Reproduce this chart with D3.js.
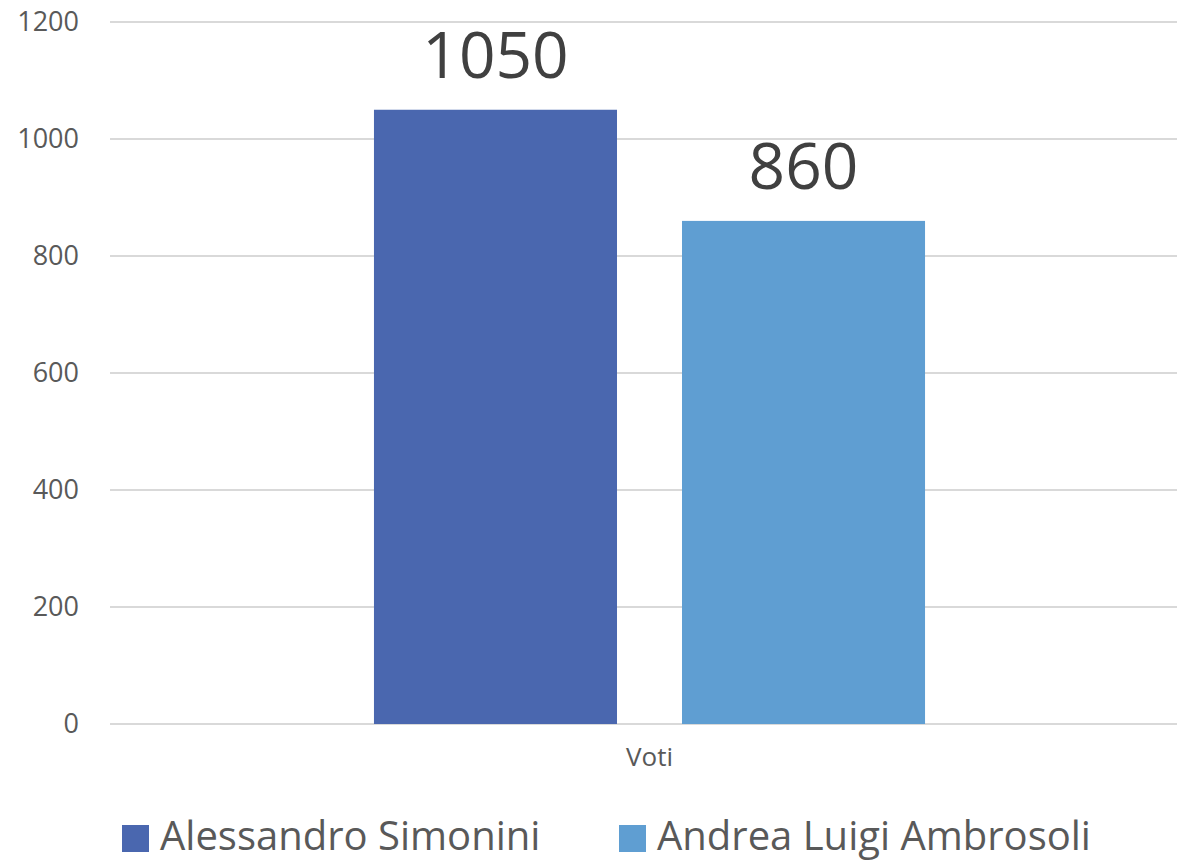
<!DOCTYPE html>
<html>
<head>
<meta charset="utf-8">
<script src="https://cdn.jsdelivr.net/npm/d3@7"></script>
<style>
  body { margin: 0; background: #fff; }
  text { font-family: "Open Sans", "Noto Sans", sans-serif; }
</style>
</head>
<body>
<div id="chart"></div>
<script>
// data
const categories = ["Voti"];
const seriesNames = ["Alessandro Simonini", "Andrea Luigi Ambrosoli"];
const seriesValues = [1050, 860];
const seriesColors = ["#4A67AF", "#5F9ED2"];
const yTicks = [0, 200, 400, 600, 800, 1000, 1200];

const width = 1177, height = 862;
const margin = { top: 22, right: -12, bottom: 138, left: 110 };

const svg = d3.select("#chart").append("svg")
    .attr("width", width)
    .attr("height", height);

// scales
const yScale = d3.scaleLinear()
    .domain([0, 1200])
    .range([height - margin.bottom, margin.top]);

const xScale = d3.scaleBand()
    .domain(categories)
    .range([margin.left, width - margin.right])
    .paddingInner(0)
    .paddingOuter(0.479);

const xInner = d3.scaleBand()
    .domain(seriesNames)
    .range([0, xScale.bandwidth()])
    .paddingInner(0.211)
    .paddingOuter(0);

// gridlines
svg.append("g")
    .selectAll("line")
    .data(yTicks)
    .join("line")
    .attr("x1", margin.left)
    .attr("x2", width)
    .attr("y1", d => yScale(d))
    .attr("y2", d => yScale(d))
    .attr("stroke", "#D9D9D9")
    .attr("stroke-width", 2);

// y axis labels
const yAxis = d3.axisLeft(yScale)
    .tickValues(yTicks)
    .tickFormat(d3.format("d"))
    .tickSize(0)
    .tickPadding(31);

svg.append("g")
    .attr("class", "y-axis")
    .attr("transform", "translate(" + margin.left + ",0)")
    .call(yAxis)
    .call(g => g.select(".domain").remove())
    .call(g => g.selectAll("text")
        .attr("fill", "#595959")
        .style("font-size", "27px"));

// x axis
const xAxis = d3.axisBottom(xScale).tickSize(0).tickPadding(24);
svg.append("g")
    .attr("class", "x-axis")
    .attr("transform", "translate(0," + yScale(0) + ")")
    .call(xAxis)
    .call(g => g.select(".domain").remove())
    .call(g => g.selectAll("text")
        .attr("fill", "#595959")
        .style("font-size", "26px"));

// bars
const barData = seriesNames.map((name, i) => ({ name: name, value: seriesValues[i], color: seriesColors[i] }));
const group = svg.append("g")
    .attr("transform", "translate(" + xScale("Voti") + ",0)");

group.selectAll("rect")
    .data(barData)
    .join("rect")
    .attr("x", d => xInner(d.name))
    .attr("y", d => yScale(d.value))
    .attr("width", xInner.bandwidth())
    .attr("height", d => yScale(0) - yScale(d.value))
    .attr("fill", d => d.color);

group.selectAll(".label")
    .data(barData)
    .join("text")
    .attr("class", "label")
    .attr("x", d => xInner(d.name) + xInner.bandwidth() / 2)
    .attr("y", d => yScale(d.value) - 32)
    .attr("text-anchor", "middle")
    .attr("fill", "#404040")
    .style("font-size", "64px")
    .text(d => d.value);

// legend
const legendX = [122, 619];
const legend = svg.append("g").attr("class", "legend");
const items = legend.selectAll("g")
    .data(barData)
    .join("g")
    .attr("transform", (d, i) => "translate(" + legendX[i] + ",825)");

items.append("rect")
    .attr("width", 27)
    .attr("height", 27)
    .attr("fill", d => d.color);

items.append("text")
    .attr("x", 38)
    .attr("y", 25)
    .attr("fill", "#595959")
    .style("font-size", "40px")
    .text(d => d.name);
</script>
</body>
</html>
